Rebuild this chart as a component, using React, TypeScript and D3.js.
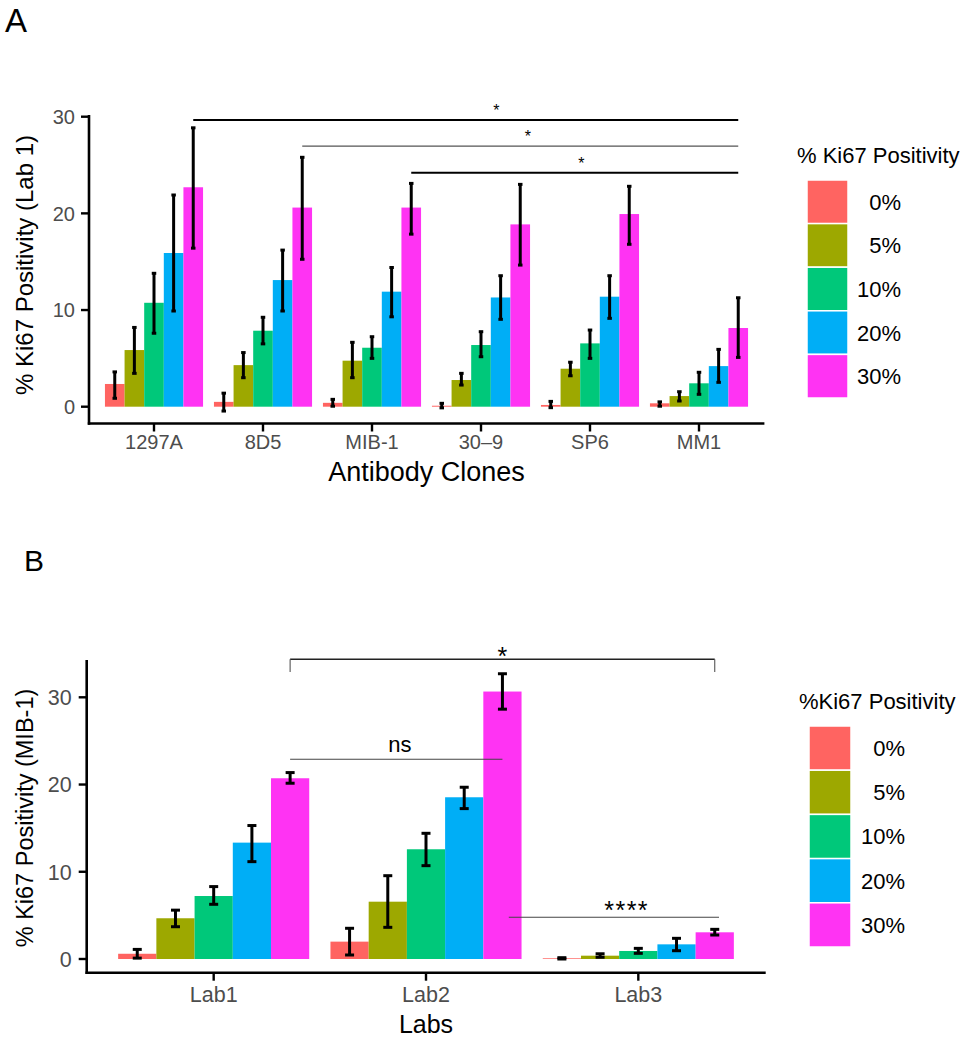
import React from "react";
import * as d3 from "d3";

// ---------- Data ----------
const seriesLabels = ["0%", "5%", "10%", "20%", "30%"];
const seriesColors = ["#FF6461", "#9DA800", "#00C87A", "#00AEF6", "#FF33F3"];

// Panel A: antibody clones (Lab 1)
const clones = ["1297A", "8D5", "MIB-1", "30\u20139", "SP6", "MM1"];
const a0 = [2.35, 0.5, 0.4, 0.1, 0.18, 0.35];
const a0lo = [0.87, -0.45, 0.05, -0.12, -0.1, 0.05];
const a0hi = [3.6, 1.4, 0.76, 0.35, 0.55, 0.5];
const a5 = [5.86, 4.3, 4.76, 2.76, 3.93, 1.1];
const a5lo = [3.45, 3.0, 3.0, 2.24, 3.2, 0.59];
const a5hi = [8.2, 5.6, 6.66, 3.45, 4.6, 1.55];
const a10 = [10.75, 7.86, 6.1, 6.38, 6.55, 2.42];
const a10lo = [7.6, 6.5, 5.0, 5.17, 5.0, 1.28];
const a10hi = [13.8, 9.25, 7.24, 7.76, 7.93, 3.56];
const a20 = [15.9, 13.1, 11.9, 11.3, 11.38, 4.2];
const a20lo = [9.9, 9.9, 9.3, 9.04, 9.14, 2.52];
const a20hi = [21.9, 16.2, 14.4, 13.55, 13.55, 5.93];
const a30 = [22.7, 20.6, 20.6, 18.86, 19.93, 8.14];
const a30lo = [16.4, 15.25, 17.85, 14.65, 16.8, 5.1];
const a30hi = [28.85, 25.8, 23.1, 23.0, 22.8, 11.27];

// Panel B: labs (MIB-1)
const labs = ["Lab1", "Lab2", "Lab3"];
const b0 = [0.6, 1.99, 0.08];
const b0lo = [0.1, 0.46, 0.0];
const b0hi = [1.1, 3.52, 0.15];
const b5 = [4.67, 6.57, 0.38];
const b5lo = [3.7, 3.63, 0.2];
const b5hi = [5.6, 9.55, 0.6];
const b10 = [7.22, 12.58, 0.92];
const b10lo = [6.27, 10.7, 0.65];
const b10hi = [8.3, 14.41, 1.22];
const b20 = [13.34, 18.54, 1.68];
const b20lo = [11.16, 17.24, 0.95];
const b20hi = [15.3, 19.69, 2.37];
const b30 = [20.72, 30.66, 3.06];
const b30lo = [20.15, 28.64, 2.75];
const b30hi = [21.37, 32.7, 3.4];

const yTicks = [0, 10, 20, 30];

// significance annotations: [fromGroup, fromSeries, toGroup, toSeries, yValue, label, labelPos(category units)]
const sigA: [number, number, number, number, number, string, number][] = [
  [0, 4, 5, 4, 29.65, "*", 4.14],
  [1, 4, 5, 4, 26.96, "*", 4.43],
  [2, 4, 5, 4, 24.2, "*", 4.92],
];
const sigAStyle = [
  { w: 2, c: "#000" },
  { w: 1.1, c: "#555" },
  { w: 1.8, c: "#000" },
];
// panel B: [xStart, xEnd (category units), y, label, labelX, bracket tick bottom or null]
const sigB: [number, number, number, string, number, number | null][] = [
  [1.36, 3.36, 34.37, "*", 2.36, 32.9],
  [1.36, 2.36, 22.9, "ns", 1.877, null],
  [2.39, 3.38, 4.78, "****", 2.945, null],
];

// ---------- helpers ----------
type Panel = {
  cats: string[];
  means: number[][];
  los: number[][];
  his: number[][];
};

const panelA: Panel = {
  cats: clones,
  means: [a0, a5, a10, a20, a30],
  los: [a0lo, a5lo, a10lo, a20lo, a30lo],
  his: [a0hi, a5hi, a10hi, a20hi, a30hi],
};
const panelB: Panel = {
  cats: labs,
  means: [b0, b5, b10, b20, b30],
  los: [b0lo, b5lo, b10lo, b20lo, b30lo],
  his: [b0hi, b5hi, b10hi, b20hi, b30hi],
};

const FONT = "'Liberation Sans', Arial, Helvetica, sans-serif";
const TICK_COL = "#4D4D4D";
const DODGE = 0.18;

function Bars({ p, x, y, cap, ew }: { p: Panel; x: any; y: any; cap: number; ew: number }) {
  const w = x(1 + DODGE) - x(1);
  const els: any[] = [];
  p.means.forEach((vals, s) => {
    vals.forEach((v, g) => {
      const cx = x(g + 1 + (s - 2) * DODGE);
      els.push(
        <rect key={`b${s}-${g}`} x={cx - w / 2} width={w} y={Math.min(y(v), y(0))} height={Math.abs(y(0) - y(v))} fill={seriesColors[s]} />
      );
    });
  });
  p.means.forEach((vals, s) => {
    vals.forEach((v, g) => {
      const cx = x(g + 1 + (s - 2) * DODGE);
      const yl = y(p.los[s][g]);
      const yh = y(p.his[s][g]);
      els.push(
        <g key={`e${s}-${g}`} stroke="#000" strokeWidth={ew}>
          <line x1={cx} x2={cx} y1={yl} y2={yh} />
          <line x1={cx - cap / 2} x2={cx + cap / 2} y1={yl} y2={yl} />
          <line x1={cx - cap / 2} x2={cx + cap / 2} y1={yh} y2={yh} />
        </g>
      );
    });
  });
  return <g>{els}</g>;
}

function Axes({ x, y, cats, left, right, top, bottom, tickFont, labelDx, labelBase }: any) {
  return (
    <g fontFamily={FONT}>
      <line x1={left} x2={left} y1={top} y2={bottom + 1.2} stroke="#000" strokeWidth={2.6} />
      <line x1={left - 1.2} x2={right} y1={bottom} y2={bottom} stroke="#000" strokeWidth={2.6} />
      {yTicks.map((t) => (
        <g key={`yt${t}`}>
          <line x1={left - 8} x2={left} y1={y(t)} y2={y(t)} stroke="#000" strokeWidth={2.4} />
          <text x={left - labelDx} y={y(t)} dy="0.36em" textAnchor="end" fontSize={tickFont} fill={TICK_COL}>
            {t}
          </text>
        </g>
      ))}
      {cats.map((c: string, i: number) => (
        <g key={`xt${c}`}>
          <line x1={x(i + 1)} x2={x(i + 1)} y1={bottom} y2={bottom + 8} stroke="#000" strokeWidth={2.4} />
          <text x={x(i + 1)} y={labelBase} textAnchor="middle" fontSize={tickFont} fill={TICK_COL}>
            {c}
          </text>
        </g>
      ))}
    </g>
  );
}

function Legend({ title, x0, titleBase, top, keyW, keyH, labelRight }: any) {
  return (
    <g fontFamily={FONT}>
      <text x={x0 - 10} y={titleBase} fontSize={22} fill="#000">
        {title}
      </text>
      {seriesLabels.map((s, i) => (
        <g key={s}>
          <rect x={x0} y={top + i * keyH} width={keyW} height={keyH} fill={seriesColors[i]} stroke="#fff" strokeWidth={1.5} />
          <text x={labelRight} y={top + i * keyH + keyH / 2} dy="0.36em" textAnchor="end" fontSize={22} fill="#000">
            {s}
          </text>
        </g>
      ))}
    </g>
  );
}

export default function App() {
  // Panel A scales
  const xA = d3.scaleLinear().domain([0.4, clones.length + 0.6]).range([88.6, 764.4]);
  const yA = d3.scaleLinear().domain([0, 30]).range([406.7, 116.7]);
  // Panel B scales
  const xB = d3.scaleLinear().domain([0.4, labs.length + 0.6]).range([86.3, 765.7]);
  const yB = d3.scaleLinear().domain([0, 30]).range([959, 697.3]);

  const sx = (g: number, s: number, x: any) => x(g + 1 + (s - 2) * DODGE);

  return (
    <svg width={978} height={1040} style={{ position: "absolute", left: 0, top: 0, background: "#fff" }} fontFamily={FONT}>
      <rect width={978} height={1040} fill="#fff" />
      {/* Panel labels */}
      <text x={5} y={32} fontSize={33} fill="#000">A</text>
      <text x={24} y={571} fontSize={30} fill="#000">B</text>

      {/* ---------- Panel A ---------- */}
      <Bars p={panelA} x={xA} y={yA} cap={4.5} ew={3} />
      <Axes x={xA} y={yA} cats={clones} left={89} right={764.4} top={115} bottom={423.5} tickFont={20} labelDx={14} labelBase={449} />
      <text x={xA(3.5)} y={481} textAnchor="middle" fontSize={27} fill="#000">Antibody Clones</text>
      <text transform={`translate(33,265) rotate(-90)`} textAnchor="middle" fontSize={24} fill="#000">% Ki67 Positivity (Lab 1)</text>
      {sigA.map(([g1, s1, g2, s2, v, lab, lx], i) => (
        <g key={`sa${i}`}>
          <line x1={sx(g1, s1, xA)} x2={sx(g2, s2, xA)} y1={yA(v)} y2={yA(v)} stroke={sigAStyle[i].c} strokeWidth={sigAStyle[i].w} />
          <text x={xA(lx)} y={yA(v) - 4} textAnchor="middle" fontSize={16} fill="#000">{lab}</text>
        </g>
      ))}
      <Legend title="% Ki67 Positivity" x0={807} titleBase={163} top={180} keyW={41} keyH={43.6} labelRight={901} />

      {/* ---------- Panel B ---------- */}
      <Bars p={panelB} x={xB} y={yB} cap={9} ew={3} />
      <Axes x={xB} y={yB} cats={labs} left={86.7} right={765.7} top={660} bottom={972.7} tickFont={21.5} labelDx={15} labelBase={1002} />
      <text x={xB(2)} y={1033} textAnchor="middle" fontSize={25} fill="#000">Labs</text>
      <text transform={`translate(33,818) rotate(-90)`} textAnchor="middle" fontSize={23.5} fill="#000">% Ki67 Positivity (MIB-1)</text>
      {sigB.map(([a, b, v, lab, lx, tick], i) => {
        const ly = lab === "ns" ? yB(v) - 7 : lab === "*" ? yB(v) + 6 : yB(v) + 2;
        return (
          <g key={`sb${i}`}>
            <line x1={xB(a)} x2={xB(b)} y1={yB(v)} y2={yB(v)} stroke={i === 0 ? "#222" : "#444"} strokeWidth={i === 0 ? 1.6 : 1.1} />
            {tick !== null && (
              <>
                <line x1={xB(a)} x2={xB(a)} y1={yB(v)} y2={yB(tick)} stroke="#555" strokeWidth={1.1} />
                <line x1={xB(b)} x2={xB(b)} y1={yB(v)} y2={yB(tick)} stroke="#555" strokeWidth={1.1} />
              </>
            )}
            <text x={xB(lx)} y={ly} textAnchor="middle" fontSize={lab === "ns" ? 22 : 25} letterSpacing={lab === "****" ? 1.5 : 0} fill="#000">{lab}</text>
          </g>
        );
      })}
      <Legend title="%Ki67 Positivity" x0={809} titleBase={709} top={726} keyW={42} keyH={44.2} labelRight={905} />
    </svg>
  );
}
